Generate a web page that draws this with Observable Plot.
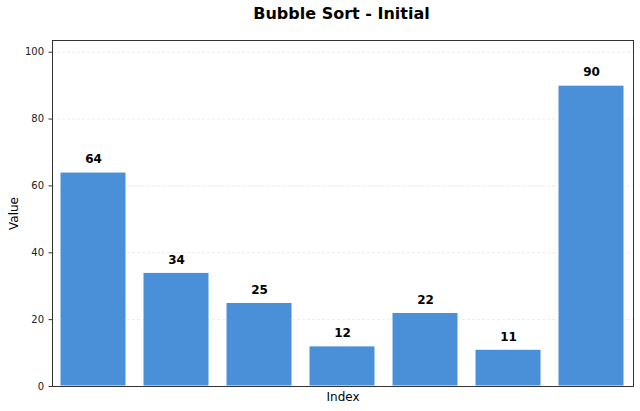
<!DOCTYPE html>
<html>
<head>
<meta charset="utf-8">
<script src="https://cdn.jsdelivr.net/npm/d3@7"></script>
<script src="https://cdn.jsdelivr.net/npm/@observablehq/plot@0.6"></script>
<style>
  html, body { margin: 0; padding: 0; background: #fff; }
  body { width: 640px; height: 411px; overflow: hidden; font-family: "DejaVu Sans", sans-serif; }
  #title { height: 28px; width: 640px; font-size: 16px; font-weight: bold; text-align: center; line-height: 28px; padding-left: 43px; box-sizing: border-box; color: #000; }
  #chart svg { display: block; }
</style>
</head>
<body>
<div id="title">Bubble Sort - Initial</div>
<div id="chart"></div>
<script>
const indices = [0, 1, 2, 3, 4, 5, 6];
const values = [64, 34, 25, 12, 22, 11, 90];
const yTicks = [0, 20, 40, 60, 80, 100];

const data = indices.map((i, k) => ({ index: i, value: values[k] }));

const chart = Plot.plot({
  width: 640,
  height: 383,
  marginTop: 12,
  marginBottom: 25,
  marginLeft: 52,
  marginRight: 7,
  style: { fontFamily: "DejaVu Sans, sans-serif", fontSize: "10px", color: "#222", background: "#fff" },
  x: { type: "band", domain: indices, paddingInner: 0.2, paddingOuter: 0.1, axis: null, label: null },
  y: { domain: [0, 103.5], ticks: yTicks, label: null },
  marks: [
    Plot.gridY(yTicks, { stroke: "#b0b0b0", strokeOpacity: 0.3, strokeDasharray: "3,2", strokeWidth: 0.8 }),
    Plot.barY(data, { x: "index", y: "value", fill: "#4A90D9", stroke: "#ffffff", strokeWidth: 1 }),
    Plot.text(data, { x: "index", y: "value", text: d => String(d.value), dy: -13, fontWeight: "bold", fontSize: 12, fill: "#000" }),
    Plot.axisY(yTicks, { tickSize: 3.5, tickPadding: 5, fontSize: 10, fill: "#222", stroke: "#333", label: null }),
    Plot.frame({ stroke: "#333", strokeWidth: 1 }),
    Plot.text(["Value"], { frameAnchor: "left", dx: -38, rotate: -90, fontSize: 12, fill: "#000", textAnchor: "middle" }),
    Plot.text(["Index"], { frameAnchor: "bottom", dy: 11, fontSize: 12, fill: "#000", lineAnchor: "middle" })
  ]
});
document.getElementById("chart").appendChild(chart);
</script>
</body>
</html>
